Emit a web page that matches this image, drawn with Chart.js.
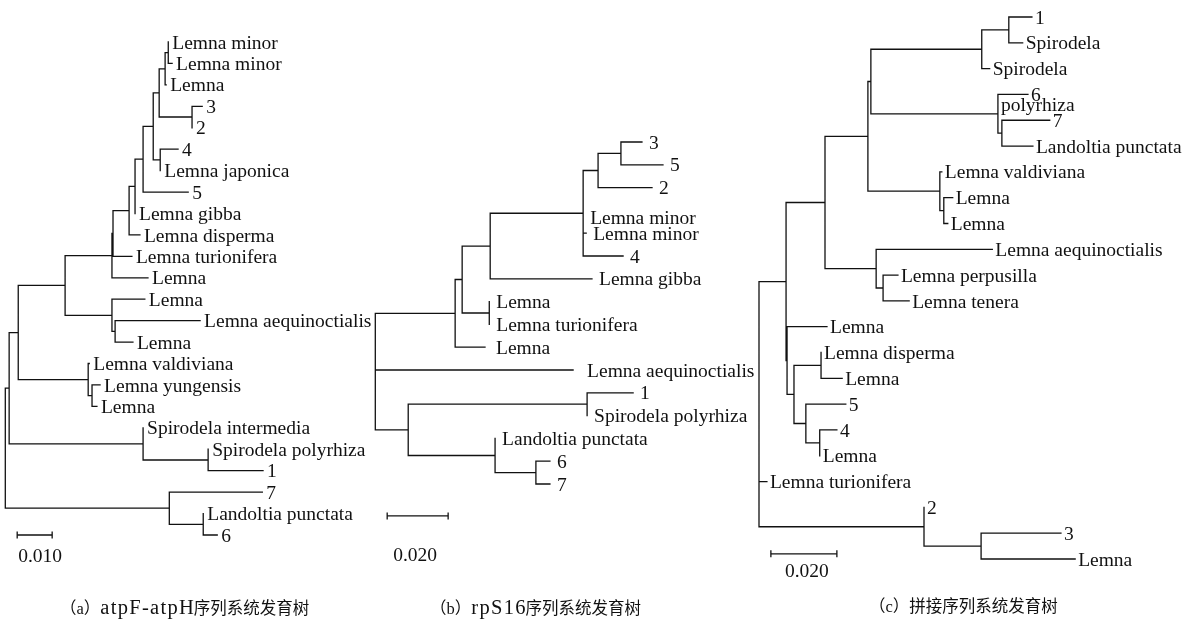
<!DOCTYPE html>
<html>
<head>
<meta charset="utf-8">
<script src="https://cdn.jsdelivr.net/npm/chart.js@4/dist/chart.umd.min.js"></script>
<style>
  html, body { margin: 0; padding: 0; background: #fff; }
  #wrap { position: relative; width: 1196px; height: 628px; overflow: hidden; background: #fff; }
  canvas { position: absolute; top: 0; }
  .cap { position: absolute; top: 596px; font-family: "Liberation Serif", "Noto Sans CJK SC", serif; font-size: 16.5px; line-height: 22px; color: #111; white-space: nowrap; }
  .lat { font-family: "Liberation Serif", serif; font-size: 20.5px; letter-spacing: 1.3px; margin-right: -1.3px; }
</style>
</head>
<body>
<div id="wrap">
  <canvas id="ca" width="380" height="628" style="left:0px"></canvas>
  <canvas id="cb" width="395" height="628" style="left:370px"></canvas>
  <canvas id="cc" width="446" height="628" style="left:750px"></canvas>
  <div class="cap" style="left:60px">（a）<span class="lat">atpF-atpH</span>序列系统发育树</div>
  <div class="cap" style="left:430px">（b）<span class="lat">rpS16</span>序列系统发育树</div>
  <div class="cap" style="left:869px">（c）拼接序列系统发育树</div>
</div>
<script>
// ---------- Tree (a): atpF-atpH ----------
const leavesA = ['Lemna minor','Lemna minor','Lemna','3','2','4','Lemna japonica','5','Lemna gibba',
  'Lemna disperma','Lemna turionifera','Lemna','Lemna','Lemna aequinoctialis','Lemna','Lemna valdiviana',
  'Lemna yungensis','Lemna','Spirodela intermedia','Spirodela polyrhiza','1','7','Landoltia punctata','6'];
const rowsA = [0,1,2,3,4,5,6,7,8,9,10,11,12,13,14,15,16,17,18,19,20,21,22,23];
// [parent, child (leaf index or node id), branch length]
const edgesA = [
  ['root','top',0.0011], ['root','land',0.0469],
  ['top','aL',0.0026], ['top','sp',0.0383],
  ['aL','up',0.0134], ['aL','vald',0.0200],
  ['up','a8',0.0134], ['up','aeq',0.0134],
  ['a8','a7',0.0003], ['a8',11,0.0103],
  ['a7','a6',0.0046], ['a7',10,0.0054],
  ['a6','a5',0.0017], ['a6',9,0.0031],
  ['a5','a4',0.0023], ['a5',8,0],
  ['a4','a3',0.0029], ['a4',7,0.0129],
  ['a3','a2',0.0017], ['a3','n4j',0.0020],
  ['a2','a1',0.0017], ['a2','n32',0.0094],
  ['a1','a0',0.0009], ['a1',2,0.0003],
  ['a0',0,0], ['a0',1,0.0011],
  ['n32',3,0.0029], ['n32',4,0],
  ['n4j',5,0.0051], ['n4j',6,0],
  ['aeq',12,0.0094], ['aeq','aeqI',0.0009],
  ['aeqI',13,0.0243], ['aeqI',14,0.0051],
  ['vald',15,0.0003], ['vald','valdI',0.0011],
  ['valdI',16,0.0023], ['valdI',17,0.0014],
  ['sp',18,0], ['sp','spI',0.0186],
  ['spI',19,0], ['spI',20,0.0157],
  ['land',21,0.0266], ['land','landI',0.0097],
  ['landI',22,0], ['landI',23,0.0040]
];
const scaleBarA = { value: 0.010, label: '0.010' };

// ---------- Tree (b): rpS16 ----------
const leavesB = ['3','5','2','Lemna minor','Lemna minor','4','Lemna gibba','Lemna','Lemna turionifera',
  'Lemna','Lemna aequinoctialis','1','Spirodela polyrhiza','Landoltia punctata','6','7'];
const rowsB = [0,1,2,3.3,4,5,6,7,8,9,10,11,12,13,14,15];
const edgesB = [
  ['root','b1',0.0262], ['root',10,0.0649], ['root','b7',0.0108],
  ['b1','b2',0.0023], ['b1',9,0.0098],
  ['b2','b3',0.0092], ['b2','bLT',0.0089],
  ['b3','b4',0.0305], ['b3',6,0.0334],
  ['b4','b5',0.0049], ['b4',3,0], ['b4',4,0.0010], ['b4',5,0.0131],
  ['b5','b6',0.0075], ['b5',2,0.0177],
  ['b6',0,0.0069], ['b6',1,0.0138],
  ['bLT',7,0], ['bLT',8,0],
  ['b7','b8',0.0587], ['b7','b9',0.0285],
  ['b8',11,0.0151], ['b8',12,0],
  ['b9',13,0], ['b9','b10',0.0134],
  ['b10',14,0.0046], ['b10',15,0.0046]
];
const scaleBarB = { value: 0.020, label: '0.020' };

// ---------- Tree (c): concatenated ----------
const leavesC = ['1','Spirodela','Spirodela','6','polyrhiza','7','Landoltia punctata','Lemna valdiviana',
  'Lemna','Lemna','Lemna aequinoctialis','Lemna perpusilla','Lemna tenera','Lemna','Lemna disperma',
  'Lemna','5','4','Lemna','Lemna turionifera','2','3','Lemna'];
const rowsC = [0,1,2,3,3.4,4,5,6,7,8,9,10,11,12,13,14,15,16,17,18,19,20,21];
const edgesC = [
  ['root','c1',0.0082], ['root',19,0.0024], ['root','cLow',0.0500],
  ['c1','c2',0.0118], ['c1','cMid',0.0003],
  ['c2','c3',0.0130], ['c2','cAeq',0.0155],
  ['c3','c4',0.0009], ['c3','cVald',0.0218],
  ['c4','c5',0.0336], ['c4','cLand',0.0385],
  ['c5','c6',0.0082], ['c5',2,0.0024],
  ['c6',0,0.0070], ['c6',1,0.0042],
  ['cLand',3,0.0091], ['cLand',4,0], ['cLand','cLand2',0.0012],
  ['cLand2',5,0.0145], ['cLand2',6,0.0094],
  ['cVald',7,0.0006], ['cVald','cV2',0.0012],
  ['cV2',8,0.0027], ['cV2',9,0.0012],
  ['cAeq',10,0.0352], ['cAeq','cPerp',0.0021],
  ['cPerp',11,0.0045], ['cPerp',12,0.0079],
  ['cMid',13,0.0121], ['cMid','cM2',0.0021],
  ['cM2','cDisp',0.0082], ['cM2','c45',0.0036],
  ['cDisp',14,0], ['cDisp',15,0.0064],
  ['c45',16,0.0121], ['c45','c4L',0.0042],
  ['c4L',17,0.0052], ['c4L',18,0],
  ['cLow',20,0], ['cLow','cLow2',0.0173],
  ['cLow2',21,0.0242], ['cLow2',22,0.0285]
];
const scaleBarC = { value: 0.020, label: '0.020' };

// ---------- tree layout from the data ----------
function layoutTree(edges, rows) {
  const kids = {}, len = {};
  edges.forEach(([p, c, l]) => { (kids[p] = kids[p] || []).push(c); len[c] = l; });
  const X = {}, Y = {};
  function walk(n, x) {
    X[n] = x;
    if (typeof n === 'number') { Y[n] = rows[n]; return; }
    const ys = kids[n].map(c => { walk(c, x + len[c]); return Y[c]; });
    Y[n] = (Math.min(...ys) + Math.max(...ys)) / 2;
  }
  walk('root', 0);
  const pts = [];
  const gap = { x: NaN, y: NaN };
  Object.keys(kids).forEach(n => {
    const ys = kids[n].map(c => Y[c]);
    pts.push({ x: X[n], y: Math.min(...ys) }, { x: X[n], y: Math.max(...ys) }, gap);
    kids[n].forEach(c => { pts.push({ x: X[n], y: Y[c] }, { x: X[c], y: Y[c] }, gap); });
  });
  const leafX = rows.map((r, i) => X[i]);
  return { pts, leafX };
}

const labelPlugin = {
  id: 'treeLabels',
  afterDatasetsDraw(chart, args, o) {
    const ctx = chart.ctx, xs = chart.scales.x, ys = chart.scales.y;
    ctx.save();
    ctx.fillStyle = '#111';
    ctx.font = o.font;
    ctx.textBaseline = 'middle';
    ctx.textAlign = 'left';
    o.names.forEach((t, i) => {
      const extra = (o.shift && o.shift[i]) || 0;
      ctx.fillText(t, xs.getPixelForValue(o.leafX[i]) + o.gap + extra, ys.getPixelForValue(o.rows[i]) + o.dy);
    });
    const b = o.bar;
    ctx.fillText(b.label, xs.getPixelForValue(b.x0) + b.ldx, ys.getPixelForValue(b.row) + b.ldy);
    ctx.restore();
  }
};

function makeTree(id, leaves, rows, edges, bar, opt) {
  const { pts, leafX } = layoutTree(edges, rows);
  const barPts = [{ x: opt.barX0, y: opt.barRow }, { x: opt.barX0 + bar.value, y: opt.barRow }];
  new Chart(document.getElementById(id), {
    type: 'scatter',
    data: {
      datasets: [
        { data: pts, showLine: true, spanGaps: false, borderColor: '#111', borderWidth: 1.3,
          pointRadius: 0, borderCapStyle: 'square', clip: false },
        { data: barPts, showLine: true, borderColor: '#111', borderWidth: 1.3,
          pointStyle: 'line', rotation: 90, pointRadius: 3.5, pointBorderColor: '#111',
          pointBorderWidth: 1.3, clip: false }
      ]
    },
    options: {
      responsive: false, animation: false, devicePixelRatio: 1,
      layout: { padding: opt.pad },
      scales: {
        x: { type: 'linear', min: 0, max: opt.xMax, display: false },
        y: { type: 'linear', min: 0, max: opt.yMax, reverse: true, display: false }
      },
      plugins: {
        legend: { display: false }, tooltip: { enabled: false },
        treeLabels: {
          names: leaves, rows, leafX, gap: opt.gap, dy: 1.5, shift: opt.shift,
          font: '19.5px "Liberation Serif", "Times New Roman", serif',
          bar: { label: bar.label, x0: opt.barX0, row: opt.barRow, ldx: opt.barLdx, ldy: opt.barLdy }
        }
      }
    },
    plugins: [labelPlugin]
  });
}

makeTree('ca', leavesA, rowsA, edgesA, scaleBarA,
  { xMax: 0.1, yMax: 23, pad: { left: 5, right: 25, top: 42, bottom: 93 }, gap: 4,
    barX0: 0.0034, barRow: 23, barLdx: 1, barLdy: 22 });
makeTree('cb', leavesB, rowsB, edgesB, scaleBarB,
  { xMax: 0.12, yMax: 17, pad: { left: 5, right: 24, top: 142, bottom: 98.4 }, gap: 7,
    shift: { 10: 7, 9: 4 },
    barX0: 0.0039, barRow: 16.4, barLdx: 6, barLdy: 40 });
makeTree('cc', leavesC, rowsC, edgesC, scaleBarC,
  { xMax: 0.12, yMax: 21, pad: { left: 9, right: 41, top: 17, bottom: 69 }, gap: 3,
    barX0: 0.0036, barRow: 20.8, barLdx: 14, barLdy: 18 });
</script>
</body>
</html>
